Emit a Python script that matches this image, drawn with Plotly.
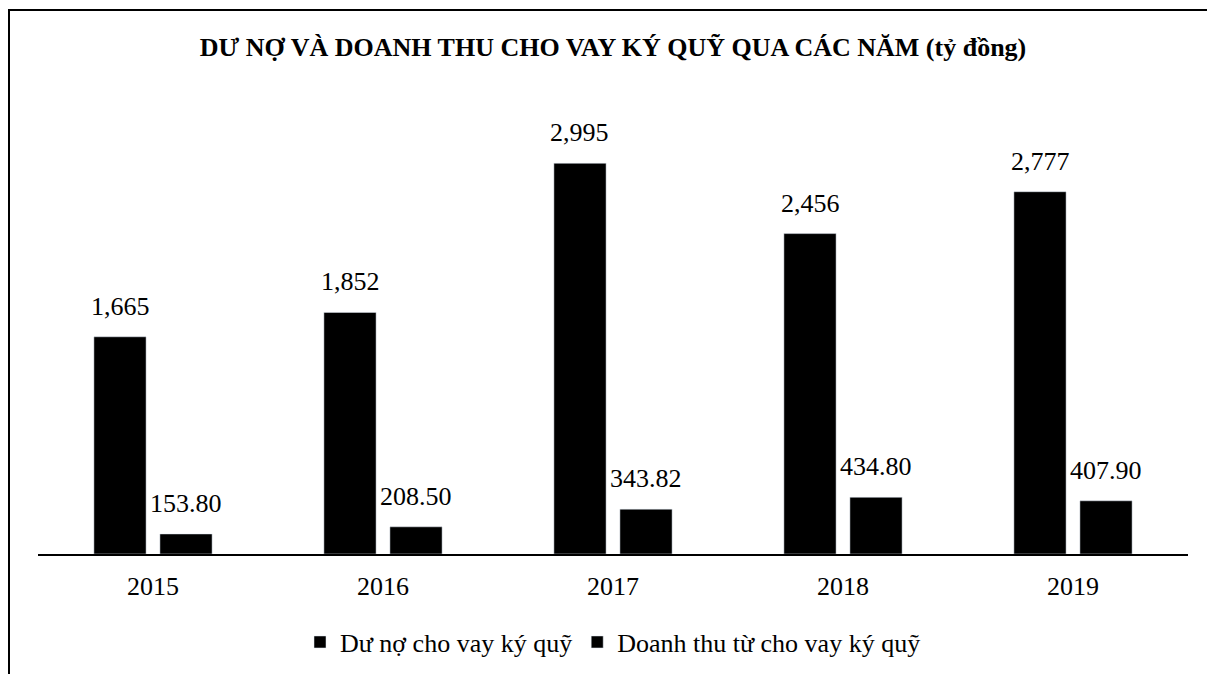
import plotly.graph_objects as go

years = ["2015", "2016", "2017", "2018", "2019"]
du_no = [1665, 1852, 2995, 2456, 2777]
doanh_thu = [153.80, 208.50, 343.82, 434.80, 407.90]
du_no_labels = ["1,665", "1,852", "2,995", "2,456", "2,777"]
doanh_thu_labels = ["153.80", "208.50", "343.82", "434.80", "407.90"]
series_names = ["Dư nợ cho vay ký quỹ", "Doanh thu từ cho vay ký quỹ"]
title_text = "DƯ NỢ VÀ DOANH THU CHO VAY KÝ QUỸ QUA CÁC NĂM (tỷ đồng)"

FONT = "Liberation Serif"
BAR_W = 0.227
OFF1 = -0.257
OFF2 = 0.030
W, H = 1215, 674
L, R, T, B = 30, 35, 92, 128
PW = W - L - R
PH = H - T - B

fig = go.Figure()
fig.add_trace(go.Bar(x=years, y=du_no, name=series_names[0], marker_color="black",
                     width=BAR_W, offset=OFF1, hoverinfo="skip"))
fig.add_trace(go.Bar(x=years, y=doanh_thu, name=series_names[1], marker_color="black",
                     width=BAR_W, offset=OFF2, hoverinfo="skip"))

annotations = []
for i in range(len(years)):
    annotations.append(dict(x=i + OFF1 + BAR_W / 2, y=du_no[i], xref="x", yref="y",
                            text=du_no_labels[i], showarrow=False, yanchor="bottom",
                            yshift=14, font=dict(family=FONT, size=26, color="black")))
    annotations.append(dict(x=i + OFF2 + BAR_W / 2, y=doanh_thu[i], xref="x", yref="y",
                            text=doanh_thu_labels[i], showarrow=False, yanchor="bottom",
                            yshift=14, font=dict(family=FONT, size=26, color="black")))

fig.update_layout(
    width=W, height=H,
    margin=dict(l=L, r=R, t=T, b=B),
    paper_bgcolor="white", plot_bgcolor="white",
    barmode="group",
    showlegend=True,
    title=dict(text="<b>" + title_text + "</b>", x=0.5, xref="paper", y=1 - 39 / H,
               yref="container", yanchor="middle", xanchor="center",
               font=dict(family=FONT, size=26, color="black")),
    legend=dict(orientation="h", x=0.5, xanchor="center", y=-0.194, yanchor="middle",
                font=dict(family=FONT, size=26, color="black"), bgcolor="rgba(0,0,0,0)",
                traceorder="normal", itemwidth=30),
    annotations=annotations,
    xaxis=dict(type="category", showline=True, linecolor="black", linewidth=2,
               showgrid=False, ticks="outside", ticklen=8, tickcolor="rgba(0,0,0,0)",
               tickfont=dict(family=FONT, size=26, color="black"), fixedrange=True),
    yaxis=dict(range=[0, 3480], visible=False, showgrid=False, fixedrange=True),
    shapes=[
        dict(type="line", xref="paper", yref="paper",
             x0=(1 - L) / PW, x1=(1 - L) / PW,
             y0=-B / PH, y1=(PH + T - 2) / PH, line=dict(color="black", width=2)),
        dict(type="line", xref="paper", yref="paper",
             x0=-L / PW, x1=1 + R / PW,
             y0=(PH + T - 2) / PH, y1=(PH + T - 2) / PH, line=dict(color="black", width=2)),
    ],
)

fig.write_html("out.html")
